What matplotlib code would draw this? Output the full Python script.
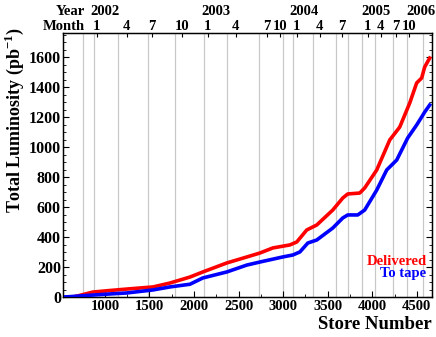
import matplotlib
matplotlib.use("Agg")
import matplotlib.pyplot as plt
from matplotlib.ticker import MultipleLocator

# integrated luminosity vs store number
delivered_store = [640, 700, 866, 1050, 1247, 1539, 1729, 1954, 2099, 2368, 2593, 2738,
                   2884, 3075, 3153, 3265, 3377, 3557, 3669, 3725, 3859, 3915, 4050,
                   4196, 4308, 4420, 4498, 4554, 4588, 4644]
delivered_lumi = [0, 8, 33, 43, 53, 67, 93, 133, 167, 227, 267, 293,
                  327, 347, 367, 447, 480, 580, 660, 687, 693, 727, 847,
                  1047, 1133, 1293, 1427, 1460, 1533, 1593]

tape_store = [530, 600, 866, 1050, 1247, 1539, 1729, 1954, 2099, 2368, 2593, 2738,
              2996, 3108, 3187, 3277, 3377, 3557, 3669, 3725, 3837, 3915, 4050,
              4162, 4274, 4397, 4498, 4554, 4588, 4644]
tape_lumi = [0, 2, 13, 20, 27, 47, 67, 85, 127, 167, 213, 233,
             267, 280, 300, 360, 380, 460, 527, 547, 547, 580, 713,
             847, 913, 1060, 1147, 1200, 1233, 1280]

# top axis: months (store number at start of month)
month_stores = [911, 1247, 1528, 1864, 2155, 2469, 2817, 2963, 3153, 3411, 3658,
                3949, 4095, 4263, 4409]
month_labels = ["1", "4", "7", "10", "1", "4", "7", "10", "1", "4", "7",
                "1", "4", "7", "10"]
year_labels = ["2002", "2003", "2004", "2005", "2006"]
year_stores = [833, 2088, 3075, 3882, 4386]

# light vertical lines
grid_stores = [750, 880, 1150, 1480, 1790, 2110, 2370, 2730, 3000, 3110, 3330,
               3590, 3725, 3880, 4030, 4230, 4390, 4565]

plt.rcParams["font.family"] = ["Liberation Serif", "DejaVu Serif"]
plt.rcParams["font.weight"] = "bold"
plt.rcParams["mathtext.fontset"] = "custom"
plt.rcParams["mathtext.rm"] = "Liberation Serif:bold"
plt.rcParams["mathtext.bf"] = "Liberation Serif:bold"

fig = plt.figure(figsize=(4.36, 3.37), dpi=100)
ax = fig.add_axes([63 / 436, 1 - 297 / 337, (432 - 63) / 436, (297 - 33) / 337])

for s in grid_stores:
    ax.axvline(s, color="#c8c8c8", lw=0.9, zorder=0)

ax.plot(delivered_store, delivered_lumi, color="#ff0000", lw=2.6, zorder=3)
ax.plot(tape_store, tape_lumi, color="#0000ff", lw=2.6, zorder=3)

ax.set_xlim(530, 4670)
ax.set_ylim(0, 1760)
ax.set_xticks(list(range(1000, 4501, 500)))
ax.xaxis.set_minor_locator(MultipleLocator(250))
ax.yaxis.set_major_locator(MultipleLocator(200))
ax.yaxis.set_minor_locator(MultipleLocator(50))
ax.tick_params(which="both", direction="in", right=True, pad=2)
ax.tick_params(which="major", length=4)
ax.tick_params(which="minor", length=2)
ax.tick_params(axis="x", labelsize=10.5)
ax.tick_params(axis="y", labelsize=11.5, pad=1.5)
for lab in ax.get_xticklabels() + ax.get_yticklabels():
    lab.set_fontweight("bold")

for sp in ax.spines.values():
    sp.set_linewidth(1.0)

ax.set_xlabel("Store Number", fontsize=13.5, fontweight="bold", loc="right", labelpad=2)
ax.set_ylabel("Total Luminosity (pb$^{-1}$)", fontsize=13,
              fontweight="bold", loc="top")
ax.yaxis.set_label_coords(-0.1, 1.02)

top = ax.twiny()
top.set_xlim(ax.get_xlim())
top.set_xticks(month_stores)
top.set_xticklabels(month_labels, fontsize=10.5, fontweight="bold")
top.tick_params(direction="in", length=3, pad=0)

trans = ax.get_xaxis_transform()
ax.text(833 - 60, 1.0, "Month", transform=trans, ha="right", va="bottom",
        fontsize=10.5, fontweight="bold")
ax.text(833 - 60, 1.057, "Year", transform=trans, ha="right", va="bottom",
        fontsize=10.5, fontweight="bold")
for yl, ys in zip(year_labels, year_stores):
    ax.text(ys, 1.057, yl, transform=trans, ha="left", va="bottom",
            fontsize=10.5, fontweight="bold", clip_on=False)

ax.text(0.985, 0.135, "Delivered", transform=ax.transAxes, ha="right", va="center",
        color="#ff0000", fontsize=10.5, fontweight="bold")
ax.text(0.985, 0.09, "To tape", transform=ax.transAxes, ha="right", va="center",
        color="#0000ff", fontsize=10.5, fontweight="bold")

fig.savefig("out.png", dpi=100)
